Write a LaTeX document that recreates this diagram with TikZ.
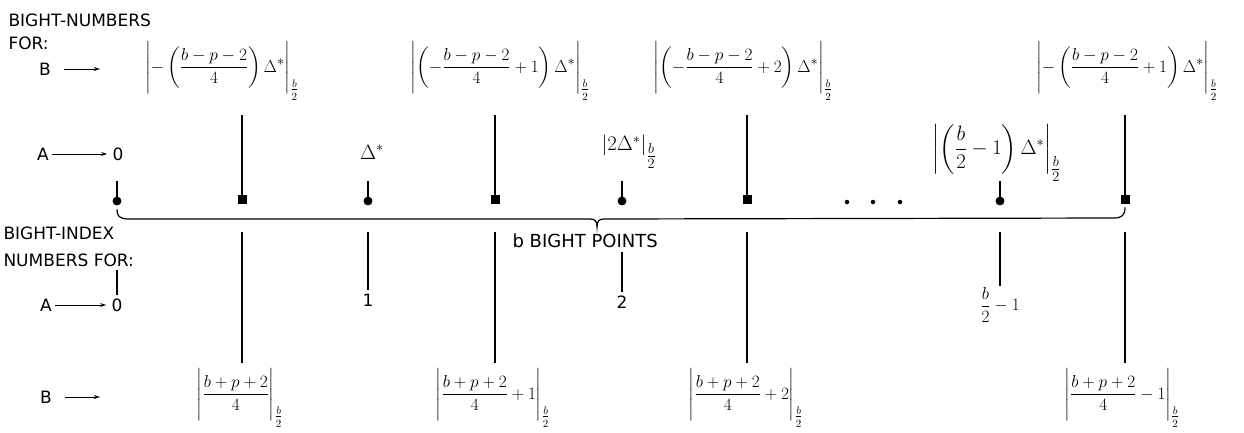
\documentclass[tikz,border=0pt]{standalone}
\usepackage{amsmath}
\usepackage{fontspec}
\setmainfont{DejaVu Sans}
\usetikzlibrary{arrows.meta, positioning, calc}
\newcommand{\bghtstrut}{\rule[-21pt]{0pt}{50pt}}
\newcommand{\bghtsub}{\tfrac{b}{2}}
\newcommand{\bghtdelta}{\text{\fontsize{19}{21}\selectfont$\Delta^{*}$}}

\begin{document}
\begin{tikzpicture}[
    x=1pt, y=-1pt,
    font=\fontsize{17}{20}\selectfont,
    hdr/.style={anchor=west},
    mth/.style={font=\fontsize{16}{19}\selectfont, inner sep=1pt},
    cmark/.style={draw, circle, line width=0.8pt, minimum size=8pt, inner sep=0pt, fill=black},
    smark/.style={draw, rectangle, line width=0.8pt, minimum size=8pt, inner sep=0pt, fill=black},
    dotm/.style={circle, fill, inner sep=0pt, minimum size=4.5pt},
    arr/.style={-{Stealth[length=6pt, width=4pt]}, line width=0.9pt},
    vln/.style={line width=1.3pt}
]
\useasboundingbox (0,0) rectangle (1244,432);

% ---- headings ----
\node[hdr] (hnum) at (5,20) {BIGHT-NUMBERS};
\node[hdr] (hfor) at (5,43) {FOR:};
\node[hdr] (hidx) at (0,233) {BIGHT-INDEX};
\node[hdr] (hnfor) at (0,260) {NUMBERS FOR:};

% ---- bight points ----
\foreach \x [count=\i] in {117,368,622,1000}
    \node[cmark] (c\i) at (\x,201) {};
\foreach \x [count=\i] in {242,495,747,1125}
    \node[smark] (s\i) at (\x,199) {};
\foreach \x [count=\i] in {847,873,900}
    \node[dotm] (dot\i) at (\x,202) {};

% ---- brace ----
\draw[line width=1.2pt] ([yshift=-4pt]c1.south) .. controls (117,216) and (119,219) .. (129,219)
    -- (590,219) .. controls (595,219) and (597,221) .. (597,227)
    .. controls (597,221) and (599,219) .. (604,219)
    -- (1114,218) .. controls (1122,218) and (1125,215) .. ([yshift=-4pt]s4.south);
\node[hdr, font=\fontsize{18}{20}\selectfont] (bpts) at (509,241) {b BIGHT POINTS};

% ---- bight-numbers for B ----
\node (Bt) at (45,69) {B};
\coordinate (Bt-end) at (100,69);
\draw[arr, shorten <=10pt] (Bt) -- (Bt-end);
\node[mth, anchor=base] (tb1) at (222,72) {$\left|-\left(\dfrac{b-p-2}{4}\right)\bghtdelta\bghtstrut\right|_{\bghtsub}$};
\node[mth, anchor=base] (tb2) at (500,72) {$\left|\left(-\dfrac{b-p-2}{4}+1\right)\bghtdelta\bghtstrut\right|_{\bghtsub}$};
\node[mth, anchor=base] (tb3) at (743,72) {$\left|\left(-\dfrac{b-p-2}{4}+2\right)\bghtdelta\bghtstrut\right|_{\bghtsub}$};
\node[mth, anchor=base] (tb4) at (1127,72) {$\left|-\left(\dfrac{b-p-2}{4}+1\right)\bghtdelta\bghtstrut\right|_{\bghtsub}$};
\foreach \i in {1,...,4}
    \draw[vln] (s\i |- tb\i.base) ++(0,43) -- (s\i);

% ---- bight-numbers for A ----
\node (At) at (43,154) {A};
\node (ta1) at (118,154) {0};
\draw[arr, shorten >=2pt] (At) -- (ta1);
\node[mth, font=\fontsize{20}{22}\selectfont] (ta2) at (372,152) {$\Delta^{*}$};
\node[mth, font=\fontsize{22}{24}\selectfont] (ta3) at (629,152) {$\left|2\Delta^{*}\right|_{\bghtsub}$};
\node[mth, font=\fontsize{20}{22}\selectfont] (ta4) at (997,153) {$\left|\left(\dfrac{b}{2}-1\right)\Delta^{*}\right|_{\bghtsub}$};
\foreach \i in {1,...,4}
    \draw[vln] (c\i.north) -- ++(0,-16);

% ---- bight-index numbers ----
\coordinate (lowtop) at (0,232);
\node (Ab) at (46,305) {A};
\node (ba1) at (117,305) {0};
\draw[arr, shorten >=2pt] (Ab) -- (ba1);
\node (ba2) at (368,300) {1};
\node (ba3) at (622,302) {2};
\node[mth] (ba4) at (1000,305) {$\dfrac{b}{2}-1$};
\draw[vln] (c1 |- hnfor.south) -- (c1 |- ba1.north);
\draw[vln] (c2 |- lowtop) -- (c2 |- ba2.north);
\draw[vln] (c3 |- bpts.south) -- (c3 |- ba3.north);
\draw[vln] (c4 |- lowtop) -- (c4 |- ba4.north);

\node (Bb) at (46,397) {B};
\coordinate (Bb-end) at (100,397);
\draw[arr, shorten <=10pt] (Bb) -- (Bb-end);
\node[mth, anchor=base] (bb1) at (240,399) {$\left|\dfrac{b+p+2}{4}\bghtstrut\right|_{\bghtsub}$};
\node[mth, anchor=base] (bb2) at (493,399) {$\left|\dfrac{b+p+2}{4}+1\bghtstrut\right|_{\bghtsub}$};
\node[mth, anchor=base] (bb3) at (746,399) {$\left|\dfrac{b+p+2}{4}+2\bghtstrut\right|_{\bghtsub}$};
\node[mth, anchor=base] (bb4) at (1122,399) {$\left|\dfrac{b+p+2}{4}-1\bghtstrut\right|_{\bghtsub}$};
\foreach \i in {1,...,4}
    \draw[vln] (s\i |- lowtop) -- ([yshift=5pt]s\i |- bb\i.north);

\end{tikzpicture}
\end{document}
